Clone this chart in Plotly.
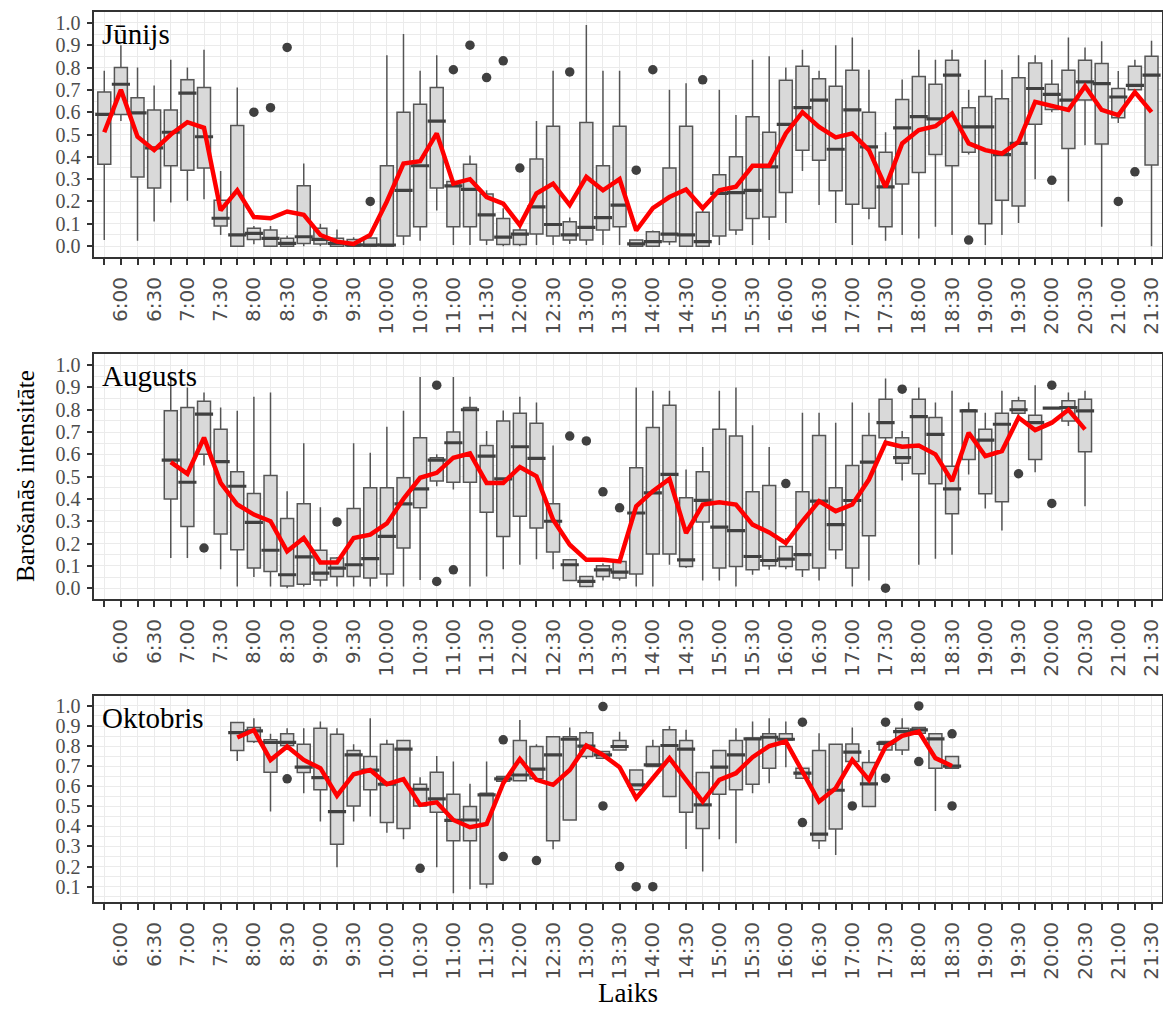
import plotly.graph_objects as go

# ---------------- categories (15-minute slots) ----------------
SLOTS = ["5:45", "6:00", "6:15", "6:30", "6:45", "7:00", "7:15", "7:30", "7:45",
         "8:00", "8:15", "8:30", "8:45", "9:00", "9:15", "9:30", "9:45",
         "10:00", "10:15", "10:30", "10:45", "11:00", "11:15", "11:30", "11:45",
         "12:00", "12:15", "12:30", "12:45", "13:00", "13:15", "13:30", "13:45",
         "14:00", "14:15", "14:30", "14:45", "15:00", "15:15", "15:30", "15:45",
         "16:00", "16:15", "16:30", "16:45", "17:00", "17:15", "17:30", "17:45",
         "18:00", "18:15", "18:30", "18:45", "19:00", "19:15", "19:30", "19:45",
         "20:00", "20:15", "20:30", "20:45", "21:00", "21:15", "21:30"]
TICK_TEXT = [s if s.endswith(":00") or s.endswith(":30") else "" for s in SLOTS]
Y_TICKS_FULL = [0.0, 0.1, 0.2, 0.3, 0.4, 0.5, 0.6, 0.7, 0.8, 0.9, 1.0]
Y_TICKS_OCT = [0.1, 0.2, 0.3, 0.4, 0.5, 0.6, 0.7, 0.8, 0.9, 1.0]
MONTHS = ["Jūnijs", "Augusts", "Oktobris"]

# ---------------- June ----------------
JUN_START = "5:45"
JUN_LOW = [0.027, 0.56, 0.024, 0.11, 0.195, 0.203, 0.21, 0.05, 0.0, 0.008, 0.0, 0.0, 0.0, 0.0, 0.0, 0.0,
           0.0, 0.0, 0.005, 0.024, 0.16, 0.005, 0.005, 0.005, 0.0, 0.0, 0.005, 0.005, 0.01, 0.005, 0.005, 0.005,
           0.0, 0.0, 0.005, 0.0, 0.0, 0.005, 0.05, 0.005, 0.027, 0.104, 0.337, 0.184, 0.104, 0.005, 0.12, 0.024,
           0.05, 0.034, 0.087, 0.05, 0.41, 0.005, 0.05, 0.104, 0.30, 0.60, 0.20, 0.452, 0.087, 0.552, 0.69, 0.0]
JUN_Q1 = [0.367, 0.59, 0.31, 0.26, 0.36, 0.34, 0.35, 0.09, 0.0, 0.03, 0.0, 0.0, 0.012, 0.01, 0.0, 0.0,
          0.0, 0.0, 0.045, 0.087, 0.26, 0.087, 0.087, 0.027, 0.007, 0.007, 0.054, 0.045, 0.027, 0.027, 0.072, 0.087,
          0.0, 0.0, 0.02, 0.0, 0.0, 0.045, 0.072, 0.124, 0.13, 0.24, 0.43, 0.385, 0.248, 0.188, 0.17, 0.087,
          0.278, 0.33, 0.41, 0.36, 0.42, 0.10, 0.206, 0.18, 0.546, 0.612, 0.437, 0.654, 0.457, 0.575, 0.70, 0.363]
JUN_MED = [0.59, 0.725, 0.597, 0.44, 0.51, 0.685, 0.49, 0.125, 0.05, 0.057, 0.035, 0.012, 0.042, 0.03, 0.012, 0.005,
           0.005, 0.005, 0.25, 0.36, 0.56, 0.27, 0.254, 0.14, 0.04, 0.054, 0.176, 0.097, 0.05, 0.084, 0.128, 0.184,
           0.01, 0.02, 0.054, 0.05, 0.02, 0.236, 0.24, 0.25, 0.355, 0.545, 0.62, 0.654, 0.434, 0.61, 0.445, 0.265,
           0.53, 0.58, 0.57, 0.766, 0.534, 0.534, 0.41, 0.46, 0.706, 0.68, 0.654, 0.736, 0.728, 0.668, 0.72, 0.766]
JUN_Q3 = [0.69, 0.80, 0.665, 0.61, 0.61, 0.745, 0.71, 0.205, 0.54, 0.08, 0.072, 0.035, 0.27, 0.08, 0.035, 0.03,
          0.037, 0.36, 0.60, 0.635, 0.71, 0.29, 0.367, 0.233, 0.124, 0.072, 0.39, 0.537, 0.109, 0.554, 0.36, 0.537,
          0.027, 0.064, 0.35, 0.537, 0.152, 0.32, 0.40, 0.58, 0.51, 0.743, 0.806, 0.75, 0.716, 0.788, 0.60, 0.42,
          0.657, 0.76, 0.725, 0.833, 0.62, 0.67, 0.66, 0.754, 0.82, 0.725, 0.788, 0.833, 0.818, 0.706, 0.806, 0.85]
JUN_HIGH = [0.785, 0.90, 0.80, 0.72, 0.835, 0.80, 0.88, 0.337, 0.71, 0.09, 0.09, 0.046, 0.37, 0.10, 0.075, 0.04,
            0.05, 0.855, 0.95, 0.785, 0.855, 0.30, 0.406, 0.25, 0.17, 0.08, 0.56, 0.785, 0.128, 0.99, 0.785, 0.785,
            0.03, 0.07, 0.70, 0.73, 0.17, 0.70, 0.587, 0.835, 0.85, 0.80, 0.88, 0.785, 0.90, 0.934, 0.79, 0.51,
            0.746, 0.88, 0.835, 0.88, 0.70, 0.835, 0.79, 0.855, 0.855, 0.835, 0.934, 0.89, 0.918, 0.784, 0.835, 0.92]
JUN_MEAN = [0.51, 0.70, 0.49, 0.43, 0.50, 0.555, 0.53, 0.16, 0.25, 0.13, 0.125, 0.155, 0.14, 0.05, 0.02, 0.01,
            0.05, 0.20, 0.37, 0.38, 0.505, 0.28, 0.30, 0.22, 0.19, 0.094, 0.236, 0.28, 0.184, 0.31, 0.25, 0.30,
            0.07, 0.17, 0.22, 0.254, 0.17, 0.25, 0.266, 0.36, 0.36, 0.505, 0.60, 0.534, 0.487, 0.505, 0.43, 0.265,
            0.46, 0.52, 0.537, 0.594, 0.46, 0.43, 0.415, 0.467, 0.646, 0.627, 0.61, 0.716, 0.61, 0.587, 0.69, 0.60]
JUN_OUT_T = ["8:00", "8:15", "8:30", "9:45", "11:00", "11:15", "11:30", "11:45", "12:00", "12:45",
             "13:45", "14:00", "14:45", "18:45", "20:00", "21:00", "21:15"]
JUN_OUT_V = [0.60, 0.62, 0.89, 0.20, 0.79, 0.90, 0.755, 0.83, 0.35, 0.78,
             0.34, 0.79, 0.745, 0.027, 0.295, 0.20, 0.333]

# ---------------- August ----------------
AUG_START = "6:45"
AUG_LOW = [0.135, 0.135, 0.55, 0.085, 0.007, 0.05, 0.007, 0.0, 0.007, 0.007, 0.007, 0.007, 0.007, 0.007,
           0.007, 0.037, 0.457, 0.442, 0.007, 0.052, 0.085, 0.105, 0.13, 0.085, 0.034, 0.007, 0.034, 0.034,
           0.007, 0.007, 0.105, 0.09, 0.034, 0.034, 0.007, 0.06, 0.082, 0.085, 0.05, 0.034, 0.13, 0.007,
           0.034, 0.65, 0.483, 0.105, 0.132, 0.15, 0.51, 0.357, 0.258, 0.77, 0.52, 0.807, 0.727, 0.367]
AUG_Q1 = [0.40, 0.277, 0.60, 0.243, 0.172, 0.09, 0.075, 0.01, 0.018, 0.037, 0.052, 0.052, 0.045, 0.063,
          0.18, 0.36, 0.48, 0.475, 0.475, 0.34, 0.232, 0.322, 0.27, 0.162, 0.034, 0.007, 0.052, 0.045,
          0.063, 0.153, 0.153, 0.097, 0.297, 0.09, 0.097, 0.082, 0.10, 0.097, 0.082, 0.09, 0.172, 0.09,
          0.235, 0.675, 0.56, 0.513, 0.468, 0.334, 0.577, 0.423, 0.387, 0.784, 0.577, 0.807, 0.75, 0.612]
AUG_MED = [0.574, 0.475, 0.78, 0.567, 0.457, 0.295, 0.17, 0.06, 0.14, 0.067, 0.09, 0.105, 0.132, 0.232,
           0.378, 0.445, 0.574, 0.652, 0.80, 0.592, 0.49, 0.634, 0.582, 0.30, 0.105, 0.03, 0.082, 0.072,
           0.337, 0.427, 0.51, 0.127, 0.394, 0.274, 0.258, 0.142, 0.124, 0.13, 0.15, 0.39, 0.285, 0.393,
           0.565, 0.742, 0.585, 0.769, 0.69, 0.445, 0.795, 0.664, 0.735, 0.80, 0.742, 0.807, 0.81, 0.795]
AUG_Q3 = [0.795, 0.81, 0.838, 0.712, 0.522, 0.424, 0.505, 0.312, 0.378, 0.17, 0.135, 0.357, 0.45, 0.45,
          0.495, 0.675, 0.585, 0.70, 0.81, 0.64, 0.75, 0.784, 0.739, 0.378, 0.127, 0.052, 0.10, 0.12,
          0.54, 0.72, 0.82, 0.405, 0.522, 0.712, 0.682, 0.432, 0.46, 0.187, 0.432, 0.685, 0.45, 0.55,
          0.685, 0.847, 0.675, 0.847, 0.765, 0.547, 0.80, 0.712, 0.784, 0.84, 0.775, 0.807, 0.84, 0.847]
AUG_HIGH = [0.95, 0.90, 0.877, 0.81, 0.795, 0.858, 0.877, 0.435, 0.65, 0.363, 0.14, 0.65, 0.607, 0.724,
            0.795, 0.947, 0.60, 0.947, 0.858, 0.705, 0.797, 0.858, 0.832, 0.64, 0.127, 0.052, 0.11, 0.12,
            0.90, 0.885, 0.885, 0.532, 0.633, 0.885, 0.90, 0.73, 0.633, 0.225, 0.787, 0.787, 0.742, 0.832,
            0.787, 0.94, 0.705, 0.90, 0.832, 0.885, 0.832, 0.787, 0.885, 0.858, 0.91, 0.807, 0.877, 0.885]
AUG_MEAN = [0.565, 0.513, 0.675, 0.472, 0.375, 0.33, 0.30, 0.165, 0.225, 0.115, 0.115, 0.225, 0.24, 0.29,
            0.40, 0.495, 0.517, 0.585, 0.604, 0.472, 0.472, 0.543, 0.502, 0.307, 0.195, 0.127, 0.127, 0.12,
            0.367, 0.435, 0.49, 0.247, 0.375, 0.385, 0.375, 0.285, 0.25, 0.202, 0.30, 0.39, 0.345, 0.375,
            0.487, 0.652, 0.634, 0.64, 0.60, 0.48, 0.697, 0.592, 0.615, 0.765, 0.709, 0.742, 0.80, 0.712]
AUG_OUT_T = ["7:15", "9:15", "10:45", "10:45", "11:00", "12:45", "13:00", "13:15", "13:30",
             "16:00", "17:30", "17:45", "19:30", "20:00", "20:00"]
AUG_OUT_V = [0.18, 0.297, 0.91, 0.03, 0.082, 0.682, 0.66, 0.432, 0.36,
             0.469, 0.0, 0.892, 0.513, 0.91, 0.38]

# ---------------- October ----------------
OCT_START = "7:45"
OCT_LOW = [0.726, 0.815, 0.474, 0.803, 0.565, 0.424, 0.196, 0.424, 0.449, 0.369, 0.336, 0.50, 0.196, 0.067,
           0.087, 0.092, 0.625, 0.628, 0.637, 0.286, 0.432, 0.736, 0.739, 0.781, 0.58, 0.698, 0.549, 0.288,
           0.175, 0.336, 0.316, 0.565, 0.615, 0.695, 0.64, 0.288, 0.258, 0.723, 0.499, 0.781, 0.756, 0.864,
           0.477, 0.69]
OCT_Q1 = [0.778, 0.823, 0.67, 0.803, 0.668, 0.582, 0.311, 0.502, 0.582, 0.42, 0.39, 0.502, 0.47, 0.329,
          0.329, 0.113, 0.625, 0.628, 0.637, 0.329, 0.432, 0.748, 0.739, 0.781, 0.582, 0.698, 0.549, 0.47,
          0.39, 0.56, 0.582, 0.61, 0.69, 0.83, 0.64, 0.329, 0.387, 0.723, 0.499, 0.781, 0.781, 0.864,
          0.69, 0.69]
OCT_MED = [0.867, 0.876, 0.818, 0.819, 0.695, 0.643, 0.474, 0.756, 0.68, 0.61, 0.785, 0.585, 0.537, 0.43,
           0.432, 0.557, 0.637, 0.656, 0.685, 0.756, 0.834, 0.80, 0.756, 0.798, 0.607, 0.706, 0.803, 0.785,
           0.507, 0.695, 0.756, 0.836, 0.844, 0.834, 0.665, 0.362, 0.58, 0.77, 0.612, 0.814, 0.872, 0.881,
           0.836, 0.70]
OCT_Q3 = [0.917, 0.892, 0.831, 0.861, 0.809, 0.889, 0.859, 0.778, 0.748, 0.809, 0.828, 0.61, 0.67, 0.56,
          0.499, 0.565, 0.648, 0.828, 0.798, 0.847, 0.847, 0.867, 0.773, 0.828, 0.681, 0.798, 0.881, 0.828,
          0.668, 0.778, 0.828, 0.839, 0.861, 0.861, 0.69, 0.778, 0.809, 0.811, 0.718, 0.823, 0.889, 0.892,
          0.861, 0.748]
OCT_HIGH = [0.917, 0.939, 0.861, 0.889, 0.889, 0.922, 0.889, 0.809, 0.939, 0.831, 0.831, 0.645, 0.751, 0.723,
            0.612, 0.723, 0.648, 0.93, 0.809, 0.847, 0.892, 0.877, 0.773, 0.872, 0.681, 0.831, 0.90, 0.881,
            0.668, 0.778, 0.889, 0.922, 0.939, 0.922, 0.69, 0.864, 0.809, 0.892, 0.781, 0.823, 0.939, 0.892,
            0.861, 0.748]
OCT_MEAN = [0.843, 0.88, 0.731, 0.798, 0.731, 0.69, 0.553, 0.66, 0.681, 0.61, 0.635, 0.507, 0.52, 0.432,
            0.396, 0.412, 0.615, 0.736, 0.632, 0.607, 0.681, 0.803, 0.756, 0.695, 0.54, 0.64, 0.74, 0.632,
            0.524, 0.632, 0.665, 0.745, 0.80, 0.823, 0.673, 0.524, 0.59, 0.731, 0.632, 0.798, 0.851, 0.872,
            0.74, 0.701]
OCT_OUT_T = ["8:30", "10:30", "11:45", "11:45", "12:15", "13:15", "13:15", "13:30", "13:45", "14:00",
             "16:15", "16:15", "17:00", "17:30", "17:30", "18:00", "18:00", "18:30", "18:30"]
OCT_OUT_V = [0.637, 0.191, 0.831, 0.25, 0.23, 0.997, 0.502, 0.2, 0.1, 0.1,
             0.919, 0.419, 0.502, 0.919, 0.64, 1.0, 0.723, 0.861, 0.502]

# ---------------- layout geometry / styles ----------------
W, H = 1163, 1011
X_LEFT, X_RIGHT = 94.3, 1161.5
PANELS_PX = [(11.7, 257.3), (354.0, 599.3), (695.7, 902.3)]  # (top, bottom) in px
Y_RANGES = [(-0.05, 1.05), (-0.05, 1.05), (0.022, 1.051)]
BOX_FILL = "#D9D9D9"
BOX_LINE = "#555555"
MED_COLOR = "#404040"
OUT_COLOR = "#404040"
GRID = "#EBEBEB"
AXIS_LINE = "#333333"
TICK_FONT_COLOR = "#4D4D4D"

months_data = [
    (JUN_START, JUN_LOW, JUN_Q1, JUN_MED, JUN_Q3, JUN_HIGH, JUN_MEAN, JUN_OUT_T, JUN_OUT_V, Y_TICKS_FULL),
    (AUG_START, AUG_LOW, AUG_Q1, AUG_MED, AUG_Q3, AUG_HIGH, AUG_MEAN, AUG_OUT_T, AUG_OUT_V, Y_TICKS_FULL),
    (OCT_START, OCT_LOW, OCT_Q1, OCT_MED, OCT_Q3, OCT_HIGH, OCT_MEAN, OCT_OUT_T, OCT_OUT_V, Y_TICKS_OCT),
]

fig = go.Figure()
layout_axes = {}
annotations = []
slot_px = (X_RIGHT - X_LEFT) / 64.2
box_width = 0.78

for k, (start, low, q1, med, q3, high, mean, out_t, out_v, yticks) in enumerate(months_data):
    n = k + 1
    xa = "x" if n == 1 else f"x{n}"
    ya = "y" if n == 1 else f"y{n}"
    s0 = SLOTS.index(start)
    xs = list(range(s0, s0 + len(med)))

    fig.add_trace(go.Box(
        x=xs, q1=q1, median=med, q3=q3, lowerfence=low, upperfence=high,
        width=box_width, whiskerwidth=0, boxpoints=False,
        fillcolor=BOX_FILL, line=dict(color=BOX_LINE, width=1.5),
        xaxis=xa, yaxis=ya, showlegend=False, hoverinfo="skip"))
    fig.add_trace(go.Scatter(
        x=xs, y=med, mode="markers",
        marker=dict(symbol="line-ew", size=box_width * slot_px,
                    line=dict(color=MED_COLOR, width=3.2)),
        xaxis=xa, yaxis=ya, showlegend=False, hoverinfo="skip"))
    fig.add_trace(go.Scatter(
        x=[SLOTS.index(t) for t in out_t], y=out_v, mode="markers",
        marker=dict(size=9.5, color=OUT_COLOR),
        xaxis=xa, yaxis=ya, showlegend=False, hoverinfo="skip"))
    fig.add_trace(go.Scatter(
        x=xs, y=mean, mode="lines", line=dict(color="#FF0000", width=4.5),
        xaxis=xa, yaxis=ya, showlegend=False, hoverinfo="skip"))

    top, bot = PANELS_PX[k]
    dom_y = [1 - bot / H, 1 - top / H]
    axis_common = dict(showline=True, mirror=True, linecolor=AXIS_LINE, linewidth=1.5,
                       ticks="outside", ticklen=6, tickwidth=1.5, tickcolor=AXIS_LINE,
                       showgrid=True, gridcolor=GRID, gridwidth=1.4, zeroline=False,
                       automargin=False, fixedrange=True, ticklabeloverflow="allow")
    layout_axes["xaxis" if n == 1 else f"xaxis{n}"] = dict(
        axis_common, domain=[X_LEFT / W, X_RIGHT / W], range=[-0.6, 63.6],
        tickmode="array", tickvals=list(range(len(SLOTS))), ticktext=TICK_TEXT,
        tickangle=-90, ticklabelstandoff=4,
        tickfont=dict(family="DejaVu Sans", size=20, color=TICK_FONT_COLOR),
        anchor=ya)
    layout_axes["yaxis" if n == 1 else f"yaxis{n}"] = dict(
        axis_common, domain=dom_y, range=list(Y_RANGES[k]),
        tickmode="array", tickvals=yticks, ticktext=[f"{v:.1f}" for v in yticks],
        ticklabelstandoff=2,
        tickfont=dict(family="Liberation Serif", size=20, color=TICK_FONT_COLOR),
        minor=dict(tickmode="linear", tick0=0, dtick=0.05, showgrid=True,
                   gridcolor=GRID, gridwidth=1.1, ticks=""),
        anchor=xa)

    annotations.append(dict(
        text=MONTHS[k], xref="paper", yref="paper",
        x=100 / W, y=1 - (top + 22.0) / H, xanchor="left", yanchor="middle",
        showarrow=False, font=dict(family="Liberation Serif", size=29, color="black")))

annotations.append(dict(
    text="Barošanās intensitāte", xref="paper", yref="paper",
    x=25 / W, y=1 - 476 / H, xanchor="center", yanchor="middle", textangle=-90,
    showarrow=False, font=dict(family="Liberation Serif", size=25, color="black")))
annotations.append(dict(
    text="Laiks", xref="paper", yref="paper",
    x=628 / W, y=1 - 993 / H, xanchor="center", yanchor="middle",
    showarrow=False, font=dict(family="Liberation Serif", size=27, color="black")))

fig.update_layout(
    width=W, height=H, template="none",
    margin=dict(l=0, r=0, t=0, b=0, autoexpand=False),
    paper_bgcolor="white", plot_bgcolor="white",
    showlegend=False, annotations=annotations,
    font=dict(family="Liberation Serif"),
    **layout_axes)

fig.write_html(
    "out.html", config={"displayModeBar": False},
    post_script="document.body.style.margin='0px';"
                "document.documentElement.style.overflow='hidden';"
                "document.body.style.overflow='hidden';")
